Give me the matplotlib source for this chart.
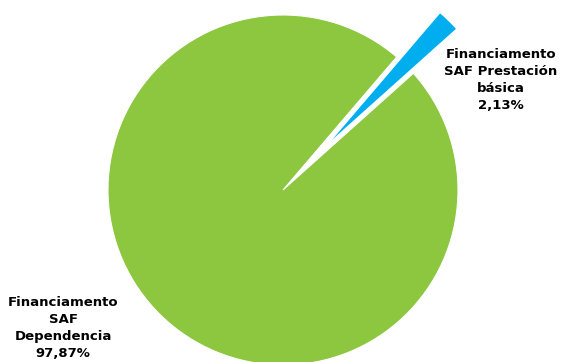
import matplotlib
matplotlib.use("Agg")
import matplotlib.pyplot as plt

# Data
labels = ["Financiamento\nSAF\nDependencia\n97,87%",
          "Financiamento\nSAF Prestación\nbásica\n2,13%"]
values = [97.87, 2.13]
colors = ["#8DC63F", "#00AEEF"]
explode = [0, 62]  # offset in axis units (pie ignores radius for explode)

fig = plt.figure(figsize=(5.62, 3.62), dpi=100)
ax = fig.add_axes([0, 0, 1, 1])

ax.pie(values, colors=colors, explode=explode, startangle=49.5,
       center=(283, 172), radius=175, frame=True,
       wedgeprops=dict(edgecolor="white", linewidth=0.8))
ax.set_xlim(0, 562)
ax.set_ylim(0, 362)
ax.set_aspect("equal")
ax.axis("off")

# labels placed outside the pie
ax.text(63, 34, labels[0], ha="center", va="center", fontsize=9.5,
        fontweight="bold", linespacing=1.38)
ax.text(501, 282, labels[1], ha="center", va="center", fontsize=9.5,
        fontweight="bold", linespacing=1.38)

fig.savefig("out.png", dpi=100)
